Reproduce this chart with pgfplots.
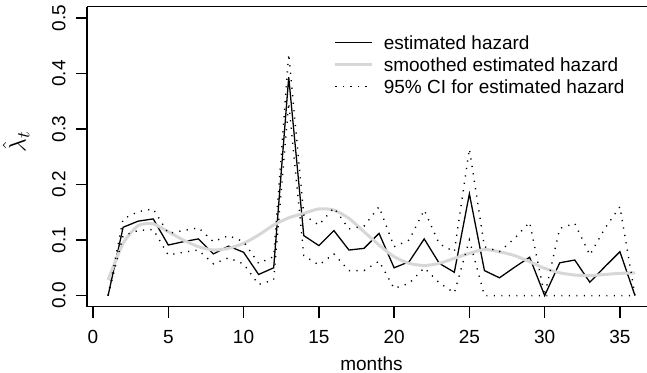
\documentclass[border=0pt]{standalone}
\usepackage{fontspec}
\setmainfont{Liberation Sans}
\usepackage{pgfplots}
\pgfplotsset{compat=1.18}
\usepackage{pgfplotstable}
\newcommand\myfont{\fontsize{9.5}{11.4}\selectfont}
\definecolor{smoothgray}{RGB}{215,215,215}
\pgfplotstableread{
t h up lo sm
1 0.000 0.000 0.000 0.028
2 0.123 0.138 0.108 0.094
3 0.134 0.151 0.117 0.126
4 0.138 0.156 0.119 0.129
5 0.091 0.112 0.073 0.115
6 0.097 0.117 0.078 0.100
7 0.102 0.122 0.082 0.088
8 0.075 0.097 0.057 0.082
9 0.089 0.108 0.068 0.085
10 0.078 0.097 0.057 0.094
11 0.038 0.058 0.020 0.109
12 0.050 0.070 0.028 0.127
13 0.393 0.435 0.347 0.140
14 0.108 0.145 0.072 0.148
15 0.090 0.127 0.055 0.156
16 0.117 0.158 0.075 0.154
17 0.082 0.120 0.045 0.139
18 0.085 0.125 0.045 0.115
19 0.112 0.160 0.062 0.091
20 0.050 0.088 0.013 0.070
21 0.061 0.100 0.022 0.058
22 0.102 0.154 0.050 0.054
23 0.058 0.093 0.023 0.058
24 0.042 0.079 0.005 0.067
25 0.183 0.264 0.100 0.076
26 0.045 0.088 0.000 0.083
27 0.032 0.079 0.000 0.079
28 0.051 0.103 0.000 0.072
29 0.069 0.132 0.000 0.061
30 0.000 0.000 0.000 0.049
31 0.059 0.121 0.000 0.041
32 0.064 0.130 0.000 0.037
33 0.024 0.073 0.000 0.036
34 0.052 0.121 0.000 0.038
35 0.079 0.160 0.000 0.040
36 0.000 0.000 0.000 0.041
}\haz
\begin{document}
\begin{tikzpicture}
\useasboundingbox (-43.5pt,-33.15pt) rectangle (280pt,153.35pt);
\begin{axis}[
  at={(0,0)}, anchor=south west,
  scale only axis, width=280pt, height=150pt,
  xmin=-0.4, xmax=36.8, ymin=-0.02, ymax=0.52,
  axis x line*=box, axis y line*=left,
  xtick pos=bottom, ytick pos=left,
  xtick={0,5,10,15,20,25,30,35},
  xticklabels={0,5,10,15,20,25,30,35},
  ytick={0,0.1,0.2,0.3,0.4,0.5},
  yticklabels={0.0,0.1,0.2,0.3,0.4,0.5},
  tick align=outside, major tick length=5.5pt,
  axis line style={line width=0.7pt, black},
  major tick style={line width=0.7pt, black},
  every tick label/.append style={font=\myfont, inner sep=0pt},
  xticklabel style={anchor=north, yshift=-6pt},
  yticklabel style={xshift=-5pt, rotate=90, anchor=south},
  xlabel={months},
  xlabel style={font=\myfont, at={(axis description cs:0.508,0)}, anchor=base, yshift=-32pt, inner sep=0pt},
  ylabel={$\hat{\lambda}_t$},
  ylabel style={font=\fontsize{12.5}{14}\selectfont, at={(axis description cs:0,0.55)}, anchor=center, yshift=35.5pt, inner sep=0pt},
  legend style={at={(axis description cs:0.440,0.905)}, anchor=north west, draw=none, fill=none,
    inner sep=0pt, column sep=5.2pt, row sep=4pt, font=\myfont,
    nodes={inner sep=0pt, text height=7pt, text depth=0pt, anchor=west}},
  legend cell align=left,
  legend image code/.code={\draw[#1] (0pt,0pt) -- (18.3pt,0pt);},
]
\addplot[black, line width=0.65pt] table[x=t, y=h] {\haz};
\addlegendentry{estimated hazard}
\addplot[smoothgray, line width=1.5pt, smooth, tension=0.4] table[x=t, y=sm] {\haz};
\addlegendentry{smoothed estimated hazard}
\addplot[black, line width=0.7pt, dash pattern=on 0.6pt off 3.15pt] table[x=t, y=up] {\haz};
\addlegendentry{95\% CI for estimated hazard}
\addplot[black, line width=0.7pt, dash pattern=on 0.6pt off 3.15pt, forget plot] table[x=t, y=lo] {\haz};
\end{axis}
\end{tikzpicture}
\end{document}
